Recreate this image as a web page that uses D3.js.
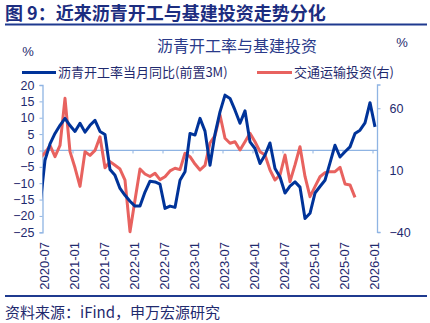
<!DOCTYPE html>
<html><head><meta charset="utf-8">
<script src="https://cdn.jsdelivr.net/npm/d3@7/dist/d3.min.js"></script>
<style>
body{margin:0;background:#fff;}
svg{display:block;font-family:"Liberation Sans",Arial,"Noto Sans CJK SC",sans-serif;}
.cjk{font-family:"Noto Sans CJK SC",sans-serif;}
</style></head><body>
<svg id="c" width="430" height="323"></svg>
<script>
// ---- data ----
const startMonth = "2020-06"; // first data month (index -1 relative to axis start 2020-07)
const asphaltYoY = [-17, -3, 2, 5.2, 7.7, 9.8, 7.6, 5.8, 8.3, 5.6, 7.7, 9.2, 5.8, 4.9, -5.8, -7.6, -11.6, -13.7, -15.5, -17, -17, -12.7, -9.4, -9.6, -10.3, -17.7, -17, -17.4, -9.1, -6.5, 5.2, 4.7, 9.8, 5.9, -4.5, 5, 11.8, 16.9, 15.9, 12.3, 8.3, 12.1, 2.6, 0.6, -4.0, -1.4, 2.3, -5.5, -8.1, -13, -10.9, -9.6, -11.2, -20.8, -19.2, -13, -11, -9.1, -3.8, 1.6, -2.0, -0.4, 1.1, 5.2, 6.2, 8.4, 14.6, 7.2];
const transportInv = [20, 24, 30, 21, 30, 68, 25, 12, -3, 25, 22, 26, 37, 12, 17, 14, 11, 2, -39.5, -14, 11, 7, 5, 7.6, 2.5, 4.8, 9.5, 11.6, 10.5, 23.7, 21, 15, 10.2, 14, 32, 38, 54.6, 35.8, 31.8, 33, 26.4, 33, 39.8, 33, 25, 22.3, 10.2, 2.2, 6.2, 22.3, 0.8, 14.3, 29, 5, -11.3, -3.2, 4.8, 8.1, 8.9, 8.9, 12.4, -1, -1.8, -11.8];
const xTickLabels = ["2020-07","2021-01","2021-07","2022-01","2022-07","2023-01","2023-07","2024-01","2024-07","2025-01","2025-07","2026-01"];
const leftTicks = [20,15,10,5,0,-5,-10,-15,-20,-25];
const rightTicks = [60,10,-40];
const seriesNames = ["沥青开工率当月同比(前置3M)","交通运输投资(右)"];
const titleText = "图 9：近来沥青开工与基建投资走势分化";
const chartTitle = "沥青开工率与基建投资";
const sourceText = "资料来源：iFind，申万宏源研究";

// ---- setup ----
const navy = "#1c2d80", blue = "#003399", red = "#e8625f", axisC = "#8fb4e3", txt = "#1f2a6e";
const svg = d3.select("#c");
const L = 42.5, R = 377.5, T = 85, B = 232.3;
const x = d3.scaleLinear().domain([0, 67]).range([L, R]);
const y = d3.scaleLinear().domain([-25, 20]).range([B, T]);
const y2 = d3.scaleLinear().domain([-40, 78.75]).range([B, T]);
const monthIndex = i => i - 1 + 0.5; // data index -> month offset from 2020-07 (mid-month)

// header
svg.append("text").attr("class","cjk").attr("x",5).attr("y",20).attr("font-size",18).attr("font-weight","bold").attr("fill",navy).text(titleText);
svg.append("line").attr("x1",5).attr("x2",427).attr("y1",24.5).attr("y2",24.5).attr("stroke","#1f3a8f").attr("stroke-width",2);
svg.append("text").attr("class","cjk").attr("x",237).attr("y",52).attr("text-anchor","middle").attr("font-size",16).attr("fill","#2a3a8a").text(chartTitle);
svg.append("text").attr("x",28).attr("y",56).attr("text-anchor","middle").attr("font-size",13).attr("fill",txt).text("%");
svg.append("text").attr("x",402).attr("y",47).attr("text-anchor","middle").attr("font-size",13).attr("fill",txt).text("%");

// legend
const lg = svg.append("g").attr("class","cjk");
lg.append("line").attr("x1",22).attr("x2",56).attr("y1",72.5).attr("y2",72.5).attr("stroke",blue).attr("stroke-width",3);
lg.append("text").attr("x",58).attr("y",77).attr("font-size",13).attr("fill",txt).text(seriesNames[0]);
lg.append("line").attr("x1",257).attr("x2",292).attr("y1",72.5).attr("y2",72.5).attr("stroke",red).attr("stroke-width",3);
lg.append("text").attr("x",294).attr("y",77).attr("font-size",13).attr("fill",txt).text(seriesNames[1]);

// left axis
const la = svg.append("g").attr("transform",`translate(${L},0)`)
  .call(d3.axisLeft(y).tickValues(leftTicks).tickSize(3).tickPadding(5));
la.select(".domain").attr("stroke",axisC).attr("stroke-width",1.3);
la.selectAll(".tick line").attr("stroke",axisC);
la.selectAll(".tick text").attr("font-size",12.5).attr("fill",txt);

// right axis
const ra = svg.append("g").attr("transform",`translate(${R},0)`)
  .call(d3.axisRight(y2).tickValues(rightTicks).tickSize(3).tickPadding(9));
ra.select(".domain").attr("stroke",axisC).attr("stroke-width",1.3).attr("d",`M3,${B}H0V${T}H3`);
ra.selectAll(".tick line").attr("stroke",axisC);
ra.selectAll(".tick text").attr("font-size",12.5).attr("fill",txt);

// x axis on zero line
const xa = svg.append("g").attr("transform",`translate(0,${y(0)})`)
  .call(d3.axisBottom(x).tickValues(xTickLabels.map((d,i)=>i*6)).tickSize(3).tickFormat(""));
xa.select(".domain").attr("stroke",axisC).attr("stroke-width",1.3).attr("d",`M${L},0H${R}`);
xa.selectAll(".tick line").attr("stroke",axisC);

// x labels at bottom
svg.append("g").selectAll("text").data(xTickLabels).join("text")
  .attr("transform",(d,i)=>`translate(${x(i*6)+1.5},242) rotate(-90)`)
  .attr("text-anchor","end").attr("dy","0.36em").attr("font-size",13).attr("fill",txt).text(d=>d);

// clip
svg.append("clipPath").attr("id","clip").append("rect").attr("x",L).attr("y",T-10).attr("width",R-L).attr("height",B-T+20);

const plot = svg.append("g").attr("clip-path","url(#clip)");
plot.append("path").datum(transportInv)
  .attr("d",d3.line().x((d,i)=>x(monthIndex(i))).y(d=>y2(d)))
  .attr("fill","none").attr("stroke",red).attr("stroke-width",3).attr("stroke-linejoin","round");
plot.append("path").datum(asphaltYoY)
  .attr("d",d3.line().x((d,i)=>x(monthIndex(i))).y(d=>y(d)))
  .attr("fill","none").attr("stroke",blue).attr("stroke-width",3).attr("stroke-linejoin","round");

// footer
svg.append("line").attr("x1",5).attr("x2",427).attr("y1",296).attr("y2",296).attr("stroke","#1f3a8f").attr("stroke-width",2);
svg.append("text").attr("class","cjk").attr("x",5).attr("y",318).attr("font-size",15).attr("fill",txt).text(sourceText);
</script></body></html>
